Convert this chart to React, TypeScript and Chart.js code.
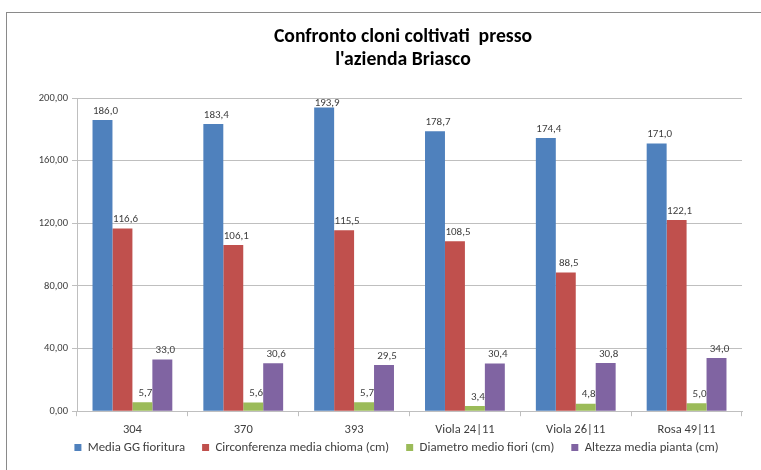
import React, { useEffect, useRef } from "react";
import { Chart, registerables } from "chart.js";

Chart.register(...registerables);

const categories = ["304", "370", "393", "Viola 24|11", "Viola 26|11", "Rosa 49|11"];
const mediaGG = [186.0, 183.4, 193.9, 178.7, 174.4, 171.0];
const circonferenza = [116.6, 106.1, 115.5, 108.5, 88.5, 122.1];
const diametro = [5.7, 5.6, 5.7, 3.4, 4.8, 5.0];
const altezza = [33.0, 30.6, 29.5, 30.4, 30.8, 34.0];
const seriesNames = [
  "Media GG fioritura",
  "Circonferenza media chioma (cm)",
  "Diametro medio fiori (cm)",
  "Altezza media pianta (cm)",
];
const yTicks = [0, 40, 80, 120, 160, 200];
const titleLines = ["Confronto cloni coltivati  presso", "l'azienda Briasco"];

const FONT = "Carlito, Lato, 'Liberation Sans', sans-serif";
const TEXT = "#404040";
const GRID = "#BFBFBF";

const dataLabels = {
  id: "dataLabels",
  afterDatasetsDraw(chart: any) {
    const ctx = chart.ctx;
    const top = chart.chartArea.top;
    ctx.save();
    ctx.font = `11px ${FONT}`;
    ctx.fillStyle = TEXT;
    ctx.textAlign = "center";
    ctx.textBaseline = "middle";
    chart.data.datasets.forEach((ds: any, di: number) => {
      const meta = chart.getDatasetMeta(di);
      meta.data.forEach((bar: any, i: number) => {
        const v = ds.data[i] as number;
        const txt = v.toFixed(1).replace(".", ",");
        const y = Math.max(bar.y - 9, top + 5);
        ctx.fillText(txt, bar.x + 3, y);
      });
    });
    ctx.restore();
  },
};

// pull the legend row up closer to the category labels
const legendShift = {
  id: "legendShift",
  afterLayout(chart: any) {
    const lg = chart.legend;
    if (lg) {
      lg.top -= 19;
      lg.bottom -= 19;
    }
  },
};

export default function App() {
  const ref = useRef<HTMLCanvasElement | null>(null);
  useEffect(() => {
    if (!ref.current) return;
    const chart = new Chart(ref.current, {
      type: "bar",
      data: {
        labels: categories,
        datasets: [
          { label: seriesNames[0], data: mediaGG, backgroundColor: "#4F81BD" },
          { label: seriesNames[1], data: circonferenza, backgroundColor: "#C0504D" },
          { label: seriesNames[2], data: diametro, backgroundColor: "#9BBB59" },
          { label: seriesNames[3], data: altezza, backgroundColor: "#8064A2" },
        ],
      },
      options: {
        responsive: false,
        animation: false,
        devicePixelRatio: 1,
        datasets: { bar: { categoryPercentage: 0.72, barPercentage: 1 } },
        layout: { padding: { left: 35, right: 3, top: 98, bottom: 1 } },
        plugins: {
          title: { display: false },
          tooltip: { enabled: false },
          legend: {
            position: "bottom",
            labels: {
              boxWidth: 7,
              boxHeight: 7,
              padding: 17,
              color: TEXT,
              font: { family: FONT, size: 12.8 },
            },
          },
        },
        scales: {
          x: {
            grid: { display: true, drawOnChartArea: false, drawTicks: true, tickLength: 5, color: GRID },
            border: { display: true, color: GRID },
            ticks: { color: TEXT, font: { family: FONT, size: 12.5 }, padding: 6 },
          },
          y: {
            min: 0,
            max: 200,
            afterFit: (scale: any) => {
              scale.width = 42;
            },
            afterBuildTicks: (scale: any) => {
              scale.ticks = yTicks.map((v) => ({ value: v }));
            },
            grid: { color: GRID, tickLength: 5, drawTicks: true },
            border: { display: true, color: GRID },
            ticks: {
              color: TEXT,
              font: { family: FONT, size: 10.5 },
              padding: 4,
              callback: (v: any) => Number(v).toFixed(2).replace(".", ","),
            },
          },
          yRight: {
            axis: "y",
            position: "right",
            display: true,
            afterFit: (scale: any) => {
              scale.width = 16;
            },
            grid: { display: false },
            border: { display: false },
            ticks: { display: false },
          },
        },
      },
      plugins: [dataLabels, legendShift],
    });
    return () => chart.destroy();
  }, []);

  return (
    <div
      style={{
        position: "fixed",
        left: 0,
        top: 0,
        width: 761,
        height: 470,
        overflow: "hidden",
        background: "#fff",
      }}
    >
      <div
        style={{
          position: "absolute",
          left: 6,
          top: 12,
          width: 800,
          height: 500,
          border: "1px solid #8A8A8A",
        }}
      />
      <canvas
        ref={ref}
        width={761}
        height={484}
        style={{ position: "absolute", left: 0, top: 0, width: 761, height: 484 }}
      />
      <div
        style={{
          position: "absolute",
          left: 203,
          width: 400,
          top: 24,
          textAlign: "center",
          fontFamily: FONT,
          fontWeight: 700,
          fontSize: 19.7,
          lineHeight: "23px",
          color: "#000",
        }}
      >
        {titleLines.map((t, i) => (
          <div key={i} style={{ whiteSpace: "pre" }}>
            {t}
          </div>
        ))}
      </div>
    </div>
  );
}
